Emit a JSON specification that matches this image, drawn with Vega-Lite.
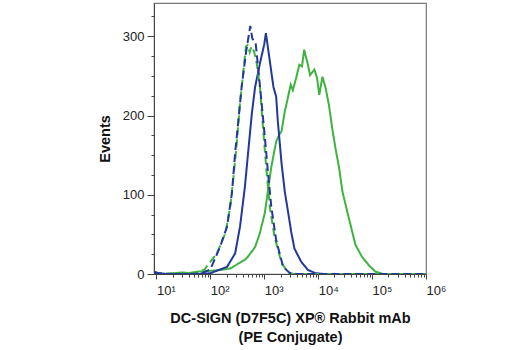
{
  "$schema": "https://vega.github.io/schema/vega-lite/v6.json",
  "width": 272,
  "height": 271,
  "autosize": {"type": "none"},
  "padding": {"left": 154, "top": 3, "right": 94, "bottom": 76},
  "background": "white",
  "config": {
    "view": {"stroke": "#777", "strokeWidth": 1.2},
    "axis": {"domainColor": "#444", "tickColor": "#444", "labelColor": "#222", "titleColor": "#111", "grid": false}
  },
  "data": {
    "values": [
      {"series": "Green solid", "x": 9, "count": 1},
      {"series": "Green solid", "x": 15, "count": 0},
      {"series": "Green solid", "x": 30, "count": 2},
      {"series": "Green solid", "x": 40, "count": 1},
      {"series": "Green solid", "x": 60, "count": 3},
      {"series": "Green solid", "x": 100, "count": 4},
      {"series": "Green solid", "x": 150, "count": 5},
      {"series": "Green solid", "x": 234, "count": 7},
      {"series": "Green solid", "x": 437, "count": 18},
      {"series": "Green solid", "x": 500, "count": 22},
      {"series": "Green solid", "x": 537, "count": 25},
      {"series": "Green solid", "x": 676, "count": 34},
      {"series": "Green solid", "x": 832, "count": 52},
      {"series": "Green solid", "x": 1023, "count": 77},
      {"series": "Green solid", "x": 1175, "count": 106},
      {"series": "Green solid", "x": 1349, "count": 135},
      {"series": "Green solid", "x": 1660, "count": 167},
      {"series": "Green solid", "x": 1900, "count": 176},
      {"series": "Green solid", "x": 2089, "count": 180},
      {"series": "Green solid", "x": 2399, "count": 205},
      {"series": "Green solid", "x": 2692, "count": 220},
      {"series": "Green solid", "x": 3090, "count": 239},
      {"series": "Green solid", "x": 3388, "count": 232},
      {"series": "Green solid", "x": 3890, "count": 247},
      {"series": "Green solid", "x": 4467, "count": 264},
      {"series": "Green solid", "x": 5012, "count": 262},
      {"series": "Green solid", "x": 5495, "count": 283},
      {"series": "Green solid", "x": 6457, "count": 264},
      {"series": "Green solid", "x": 7079, "count": 251},
      {"series": "Green solid", "x": 8511, "count": 258},
      {"series": "Green solid", "x": 9550, "count": 247},
      {"series": "Green solid", "x": 10471, "count": 226},
      {"series": "Green solid", "x": 12023, "count": 249},
      {"series": "Green solid", "x": 13804, "count": 234},
      {"series": "Green solid", "x": 15849, "count": 213},
      {"series": "Green solid", "x": 18197, "count": 184},
      {"series": "Green solid", "x": 20893, "count": 159},
      {"series": "Green solid", "x": 24547, "count": 133},
      {"series": "Green solid", "x": 28184, "count": 104},
      {"series": "Green solid", "x": 32359, "count": 87},
      {"series": "Green solid", "x": 39811, "count": 62},
      {"series": "Green solid", "x": 48978, "count": 37},
      {"series": "Green solid", "x": 64565, "count": 22},
      {"series": "Green solid", "x": 87096, "count": 11},
      {"series": "Green solid", "x": 114815, "count": 3},
      {"series": "Green solid", "x": 162181, "count": 0},
      {"series": "Green solid", "x": 1000000, "count": 0},

      {"series": "Blue solid", "x": 9, "count": 3},
      {"series": "Blue solid", "x": 11, "count": 1},
      {"series": "Blue solid", "x": 15, "count": 0},
      {"series": "Blue solid", "x": 60, "count": 0},
      {"series": "Blue solid", "x": 100, "count": 1},
      {"series": "Blue solid", "x": 204, "count": 9},
      {"series": "Blue solid", "x": 288, "count": 26},
      {"series": "Blue solid", "x": 355, "count": 60},
      {"series": "Blue solid", "x": 437, "count": 110},
      {"series": "Blue solid", "x": 501, "count": 153},
      {"series": "Blue solid", "x": 589, "count": 203},
      {"series": "Blue solid", "x": 676, "count": 236},
      {"series": "Blue solid", "x": 832, "count": 266},
      {"series": "Blue solid", "x": 1000, "count": 290},
      {"series": "Blue solid", "x": 1072, "count": 304},
      {"series": "Blue solid", "x": 1259, "count": 270},
      {"series": "Blue solid", "x": 1479, "count": 236},
      {"series": "Blue solid", "x": 1660, "count": 224},
      {"series": "Blue solid", "x": 1778, "count": 194},
      {"series": "Blue solid", "x": 2089, "count": 140},
      {"series": "Blue solid", "x": 2399, "count": 104},
      {"series": "Blue solid", "x": 2754, "count": 79},
      {"series": "Blue solid", "x": 3162, "count": 53},
      {"series": "Blue solid", "x": 3631, "count": 32},
      {"series": "Blue solid", "x": 4786, "count": 16},
      {"series": "Blue solid", "x": 6457, "count": 5},
      {"series": "Blue solid", "x": 9000, "count": 1},
      {"series": "Blue solid", "x": 12882, "count": 0},
      {"series": "Blue solid", "x": 1000000, "count": 0},

      {"series": "Green dashed", "x": 9, "count": 0},
      {"series": "Green dashed", "x": 30, "count": 1},
      {"series": "Green dashed", "x": 50, "count": 2},
      {"series": "Green dashed", "x": 76, "count": 5},
      {"series": "Green dashed", "x": 132, "count": 26},
      {"series": "Green dashed", "x": 191, "count": 52},
      {"series": "Green dashed", "x": 234, "count": 85},
      {"series": "Green dashed", "x": 269, "count": 123},
      {"series": "Green dashed", "x": 309, "count": 165},
      {"series": "Green dashed", "x": 355, "count": 216},
      {"series": "Green dashed", "x": 407, "count": 254},
      {"series": "Green dashed", "x": 457, "count": 287},
      {"series": "Green dashed", "x": 490, "count": 289},
      {"series": "Green dashed", "x": 537, "count": 280},
      {"series": "Green dashed", "x": 575, "count": 287},
      {"series": "Green dashed", "x": 646, "count": 281},
      {"series": "Green dashed", "x": 724, "count": 266},
      {"series": "Green dashed", "x": 832, "count": 236},
      {"series": "Green dashed", "x": 955, "count": 182},
      {"series": "Green dashed", "x": 1096, "count": 131},
      {"series": "Green dashed", "x": 1288, "count": 81},
      {"series": "Green dashed", "x": 1549, "count": 47},
      {"series": "Green dashed", "x": 2089, "count": 14},
      {"series": "Green dashed", "x": 2750, "count": 2},
      {"series": "Green dashed", "x": 3500, "count": 0},
      {"series": "Green dashed", "x": 1000000, "count": 0},

      {"series": "Blue dashed", "x": 9, "count": 1},
      {"series": "Blue dashed", "x": 20, "count": 0},
      {"series": "Blue dashed", "x": 40, "count": 0},
      {"series": "Blue dashed", "x": 70, "count": 1},
      {"series": "Blue dashed", "x": 100, "count": 6},
      {"series": "Blue dashed", "x": 151, "count": 34},
      {"series": "Blue dashed", "x": 204, "count": 60},
      {"series": "Blue dashed", "x": 251, "count": 102},
      {"series": "Blue dashed", "x": 288, "count": 153},
      {"series": "Blue dashed", "x": 331, "count": 194},
      {"series": "Blue dashed", "x": 380, "count": 236},
      {"series": "Blue dashed", "x": 457, "count": 279},
      {"series": "Blue dashed", "x": 550, "count": 313},
      {"series": "Blue dashed", "x": 600, "count": 297},
      {"series": "Blue dashed", "x": 690, "count": 292},
      {"series": "Blue dashed", "x": 776, "count": 258},
      {"series": "Blue dashed", "x": 891, "count": 216},
      {"series": "Blue dashed", "x": 1023, "count": 173},
      {"series": "Blue dashed", "x": 1175, "count": 127},
      {"series": "Blue dashed", "x": 1349, "count": 85},
      {"series": "Blue dashed", "x": 1660, "count": 43},
      {"series": "Blue dashed", "x": 2239, "count": 9},
      {"series": "Blue dashed", "x": 3000, "count": 1},
      {"series": "Blue dashed", "x": 4000, "count": 0},
      {"series": "Blue dashed", "x": 1000000, "count": 0}
    ]
  },
  "mark": {"type": "line", "strokeWidth": 2, "clip": true, "interpolate": "linear"},
  "encoding": {
    "x": {
      "field": "x",
      "type": "quantitative",
      "scale": {"type": "log", "domain": [9, 1000000], "nice": false},
      "axis": {
        "title": ["DC-SIGN (D7F5C) XP® Rabbit mAb", "(PE Conjugate)"],
        "titleFont": "Liberation Sans, Arial, sans-serif",
        "titleFontSize": 14.5,
        "titleFontWeight": "bold",
        "titleLineHeight": 19,
        "titlePadding": 14,
        "values": [10, 20, 30, 40, 50, 60, 70, 80, 90, 100, 200, 300, 400, 500, 600, 700, 800, 900, 1000, 2000, 3000, 4000, 5000, 6000, 7000, 8000, 9000, 10000, 20000, 30000, 40000, 50000, 60000, 70000, 80000, 90000, 100000, 200000, 300000, 400000, 500000, 600000, 700000, 800000, 900000, 1000000],
        "labelExpr": "datum.value == 10 ? '10¹' : datum.value == 100 ? '10²' : datum.value == 1000 ? '10³' : datum.value == 10000 ? '10⁴' : datum.value == 100000 ? '10⁵' : datum.value == 1000000 ? '10⁶' : ''",
        "labelAlign": "left",
        "labelFont": "Liberation Sans, Arial, sans-serif",
        "labelFontSize": 13,
        "labelPadding": 5,
        "labelOverlap": false,
        "labelBound": false,
        "labelFlush": false,
        "tickSize": {"condition": {"test": "indexof([10,100,1000,10000,100000,1000000], datum.value) >= 0", "value": 5}, "value": 3}
      }
    },
    "y": {
      "field": "count",
      "type": "quantitative",
      "scale": {"domain": [0, 342], "nice": false},
      "axis": {
        "title": "Events",
        "titleFont": "Liberation Sans, Arial, sans-serif",
        "titleFontSize": 14.5,
        "titleFontWeight": "bold",
        "titlePadding": 10,
        "values": [0, 25, 50, 75, 100, 125, 150, 175, 200, 225, 250, 275, 300, 325],
        "labelExpr": "datum.value % 100 == 0 ? datum.value : ''",
        "labelFont": "Liberation Sans, Arial, sans-serif",
        "labelFontSize": 13,
        "labelPadding": 3,
        "labelOverlap": false,
        "tickSize": {"condition": {"test": "datum.value % 100 == 0", "value": 7}, "value": 3}
      }
    },
    "color": {
      "field": "series",
      "type": "nominal",
      "scale": {"domain": ["Green solid", "Blue solid", "Green dashed", "Blue dashed"], "range": ["#3fb33f", "#22399a", "#3fb33f", "#22399a"]},
      "legend": null
    },
    "strokeDash": {
      "field": "series",
      "type": "nominal",
      "scale": {"domain": ["Green solid", "Blue solid", "Green dashed", "Blue dashed"], "range": [[1, 0], [1, 0], [8, 4], [8, 4]]},
      "legend": null
    },
    "order": {"field": "x", "type": "quantitative"}
  }
}
